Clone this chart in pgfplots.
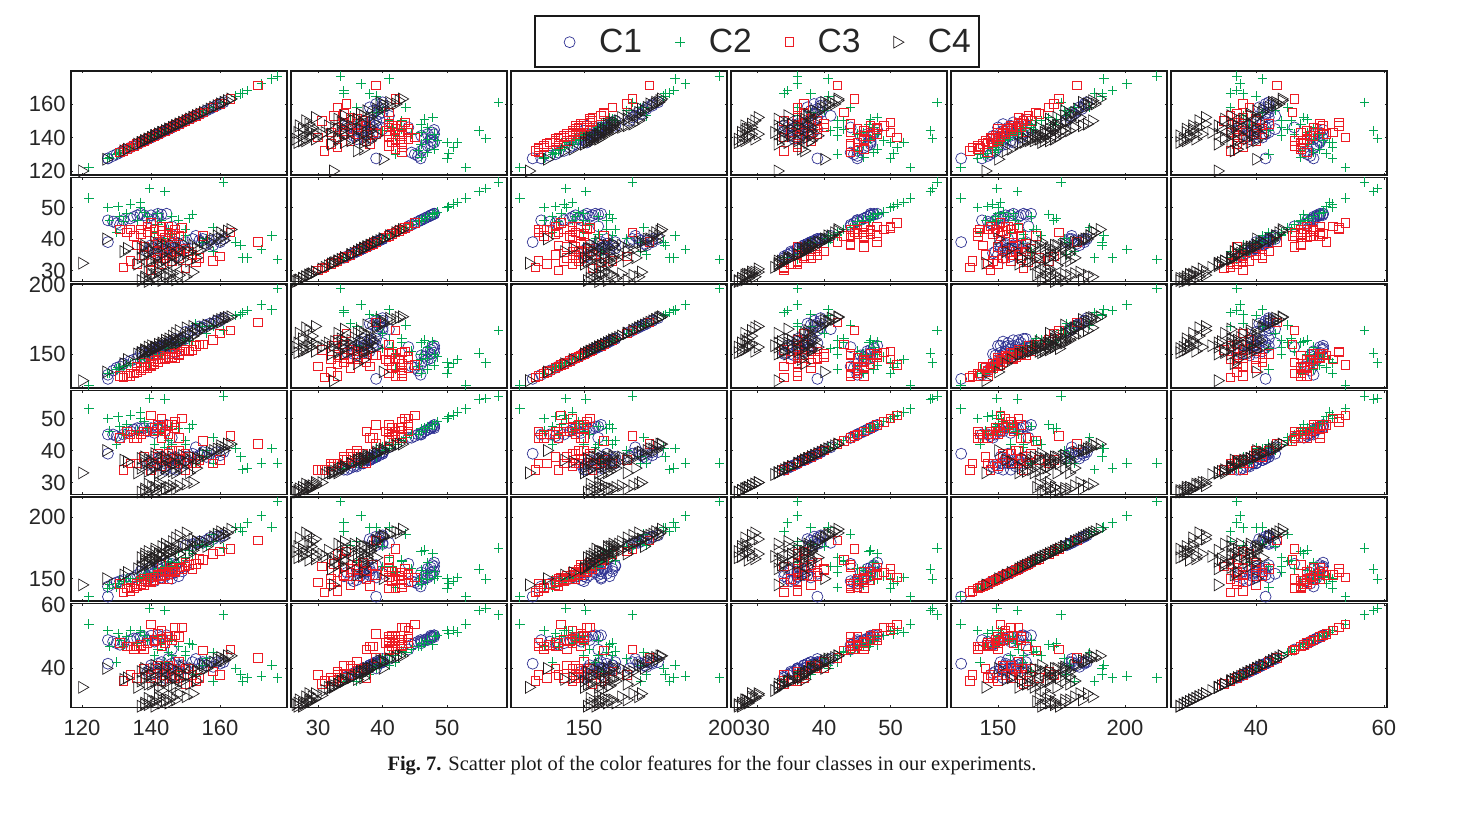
\documentclass[border=0pt]{standalone}
\usepackage{pgfplots}
\usepackage{pgfplotstable}
\pgfplotsset{compat=1.18}
\usepackage{fontspec}
\setmainfont{Liberation Sans}
\newfontfamily\capfont{Liberation Serif}

\definecolor{cone}{RGB}{46,49,146}
\definecolor{ctwo}{RGB}{0,166,81}
\definecolor{cthree}{RGB}{237,28,36}
\definecolor{cfour}{RGB}{35,31,32}

% columns: the six colour features
\pgfplotstableread{
a b c d e f
127.5 39 132 39 135.5 41.5
127.5 45.9 135 45 143.7 49
130 45 140 44.5 147 48
134 46.5 145 46 150 49
137 48 151 47 156 50
140 47.5 153 47 159 50.4
143 47.7 155 47.5 161 50
144.5 48 156 48 163 50.5
139 46.5 148 46 152 49
141 46 149 45.5 155 48.5
132 46 143 45 149 48
136 47.5 147 47 153 49.5
142 47 152 46.5 158 49
146 44 155 44 162 46
140 38 152 37 153 41
142 37 154 36 155 40
144 36 155 35 157 39
146 35 156 34.5 150 38
148 36.5 159 36 152 39.5
149 38 160 37 156 41
143 39 156 38 151 42
145 40 158 39 154 43
141 35.5 150 35 148 38.5
147 34.5 151 34 155 37.5
150 37 161 36 160 40
139 36 149 35.5 149 39
145 37.5 157 37 158 40
147 39 161 38 161 42
152 40 167 39 178 42
154 39.5 170 38.5 180 41.5
156 38.5 171 38 181 41
158 38 172 37.5 182 40.5
160 39 174 38.5 184 41.5
161 40 176 39.5 185 42
153 41 168 41 179 43
150 39 166 38 177 40
129 45.5 138 45 146 48.5
131 44.5 141 44 148 47.5
135 47 146 46.5 151 49.5
138 47.5 150 47 155 50
142 48 154 47.5 160 50.5
140 37 151 36 151 40
142 38.5 155 37.5 153 41.5
144 37 156 36 156 40
146 38.5 158 37.5 159 41.5
148 38 160 37 158 41
144 34 150 34 152 37
146 37 156 36 154 39.5
155 40 169 39.5 179 42
157 39.5 172 39 183 42
159 40 174 39.5 184 42
}\tblone

\pgfplotstableread{
a b c d e f
122 52.9 127.5 53 135.4 54
139.5 56 143.6 56.3 149.6 59
144 55 150.7 56 157.7 58.4
161 58 167 57 174.8 57
127.5 50 136 50 142 52
130.5 50.3 140 50.5 146 51
134 51 143 51 148 52
137 51.6 146 52 151 51.5
131 47 139 47.5 149 49
148 46 158 46.8 172 47
152 47.8 159 48 170 47.5
151 46.5 160 47 173 48
158 43.6 171 44 186 45
164.6 39 178 40.7 191 40
166 38 178.5 38 191 38
172 36.7 185.6 36 200.7 37.5
175 41 182 40.6 191.7 41
176.7 33.5 197.5 36 212.5 37
166.5 34 180 34 188 36
168 34 181.5 34.5 195 37
128 46 136 46 145 47
132 45.5 141 45 148 47
136 46 146 46 150 48
139 47 147 47 154 49
142 44.5 152 45 158 46
146 41.5 155 42 160 44
150 43 161 43 165 45.5
155 39 170 38 178 41
153 35 172 36 177 38
158 36 170 36 180 36
130 42 139 42 143 42
148 36 156 36 163 39
142 48 150 48 156 50
137 50 144 50 150 52
145 43 158 43 164 45
133 48 142 48 150 50
138 48.5 148 49 152 50.5
143 46 150 46 157 48
146 47 155 47.5 163 49
141 42 150 42 155 44
144 40 154 41 160 42
150 41 160 42 167 44
156 40 165 40 176 43
}\tbltwo

\pgfplotstableread{
a b c d e f
171 39 173 42 181 43.3
163 42 167 44.6 174 46
160 34.4 165 37 172 38
155 41 157 43 165 45.7
153 32.5 156 36 162 36
150 30.6 153 34 160 35
146 33 148 36 155 37
132 31 133 34 139 36
134 33 134 36 140 38
136 32 137 36 146 37
140 30 141 34 147 38
142 34 144 38 152 41
145 35 147 39 155 41
148 36 150 40 158 42
143 32 146 35 150 36
150 37 152 39 163 40
147 37.5 147 36 156 37
135 41 136 44 142 46
133 42 134 46 142 47
131 43 134 44 146 48
137 41.5 140 45 148 47
139 42 141 46 150 48
141 43 143 47 149 49
143 44 146 50 153 52
145 42 147 45 150 50
147 43 151 49 155 53
149 43.5 152 50 158 53
144 40.5 146 46 156 48
146 41 150 48 159 49
148 41 150 44 159 50
140 45 142 51 151 54
142 39 149 48 153 51
136 38 141 44 144 47
138 37.5 144 46 150 46
143 38.5 149 44 161 47
152 35 153 36 158 38
158 33 160 36 170 39
137 43 138 45 146 47.5
139 44 140 46 147 48
141 41 145 46 151 48.5
143 42.5 146 47 152 49
145 44 148 48 154 50
147 41.5 150 47 156 50.5
134 43 136 45 143 47
142 36 146 39 152 40
144 34 147 37 153 38
146 36 148 40 157 40
148 34 149 37 159 38
140 33 143 36 148 37
138 35 140 38 145 40
151 36 152 38 161 40
154 34 157 37 166 37
}\tblthree

\pgfplotstableread{
a b c d e f
120 32.3 130.7 33 145 34
127 40 137 40 150 40
132 36 143 37 153 36.5
133 37 146 36.5 155 37
137 26.8 151 27 167 28
138 28 153 28 170 29
139 26.5 155 27 172 28.5
140 28.5 156 28.5 165 29.5
141 27.5 154 27.5 174 28
142 29.5 157 29 169 30.5
143 26.8 158 27.5 176 29
144 28.5 160 28 178 30
145 27.5 161 28.5 172 29
146 29 163 29 180 31
147 27 165 28 183 30
148 28.5 167 29 185 32
150 28 169 29.5 187 31
152 29.5 170 30 182 32
142 30.5 155 30 170 31.5
139 29.5 152 29.5 166 30.5
137 37 151 37.5 160 39
138 35 152 36 162 37
139 33 151 33.5 161 35
140 36 153 36.5 168 38
141 34 154 35 165 36
142 32 155 33 164 34
143 35 157 36 171 37
144 33.5 158 34.5 169 36
145 36.5 156 37 172 38.5
146 32.5 159 33.5 166 34.5
147 35 160 36 174 37
148 37 158 37.5 170 39
149 33.5 161 34.5 176 36
150 35.5 162 36.5 178 37.5
138 38 153 38 164 40
141 39 155 39 167 41
144 38 158 38 175 40
152 38 163 38 173 40
154 36.5 167 37.5 178 39
155 39 169 39 180 41
156 37.5 171 38.5 176 40
158 40 172 40 184 42
159 41 174 40.5 186 43
160 42 175 41.5 188 43.5
161 41 176 41 186 43
162 42.5 176.5 42 187 44
163 43 177 42 190 44
161 39.5 175 40 183 42.5
151 36 165 37 170 38
139 37 152 37 163 38.5
141 37.5 154 38 166 39.5
143 37.5 156 37.5 168 39
146 38 160 38 172 40
149 38.5 160 38.5 176 40.5
153 37 165 37.5 176 39
136 32 150 33 158 34
137 34 150 34.5 159 36
140 33 152 34 163 35
143 31 156 32.5 168 33
145 34 157 35 170 36
147 31.5 158 33 173 34
148 34 160 35 170 36.5
151 33 165 33 178 35
153 34 168 34.5 180 36
157 39 170 39.5 181 41
160 40 173 40.5 185 42.5
138 27.5 152 27.5 168 28.5
141 28.8 155 28.5 172 29.5
145 28.8 159 28.2 176 30
}\tblfour

% ranges and ticks of each feature, for x (column) and y (row)
\newcommand\xlo[1]{\ifcase#1 116.8\or 25.8\or 124.4\or 26\or 131.5\or 26.7\fi}
\newcommand\xhi[1]{\ifcase#1 179.4\or 59.3\or 200.2\or 58.5\or 216.5\or 60.5\fi}
\newcommand\ylo[1]{\ifcase#1 117.6\or 26.5\or 125.4\or 26.25\or 132\or 27.6\fi}
\newcommand\yhi[1]{\ifcase#1 179.7\or 59.5\or 200.7\or 58.75\or 216\or 60.6\fi}
\newcommand\tickset[1]{\ifcase#1 120,140,160\or 30,40,50\or 150,200\or 30,40,50\or 150,200\or 40,60\fi}
\newcommand\rowbottom[1]{\ifcase#1 175\or 281.5\or 388\or 494.5\or 601\or 707.5\fi}

\pgfplotsset{
  panel/.style={
    scale only axis, width=108pt, height=52pt, anchor=south west,
    axis line style={line width=0.6pt,color=black!90},
    tick style={line width=0.3pt,color=black!85},
    major tick length=1.2pt,
    tick align=inside,
    xtick pos=both, ytick pos=both,
    /pgf/number format/assume math mode=true,
    tick label style={font=\fontsize{11}{12}\selectfont,color=black!85},
    xticklabel style={yshift=-2.8pt},
    yticklabel style={xshift=0.8pt},
    legend style={
      at={(3.234,1.277)}, anchor=center,
      legend columns=4, draw=none, fill=none,
      font=\fontsize{16.8}{20}\selectfont, text=black!85,
      /tikz/every odd column/.append style={column sep=10pt},
      /tikz/every even column/.append style={column sep=14.6pt},
    },
  },
  cone style/.style={only marks, mark=o, mark size=2.75pt, mark options={draw=cone,line width=0.35pt}},
  ctwo style/.style={only marks, mark=+, mark size=2.4pt, mark options={draw=ctwo,line width=0.5pt}},
  cthree style/.style={only marks, mark=square, mark size=2.15pt, mark options={draw=cthree,line width=0.45pt}},
  cfour style/.style={only marks, mark=triangle, mark size=3.4pt, mark options={draw=cfour,line width=0.35pt,rotate=-90}},
}

\begin{document}
\begin{tikzpicture}
\path[use as bounding box] (0pt,0pt) rectangle (740pt,407.5pt);

\foreach \rr in {0,...,5}{
  \foreach \cc in {0,...,5}{
    \pgfmathsetmacro\xpos{(71+220*\cc)/2}
    \pgfmathsetmacro\ypos{(815-\rowbottom{\rr})/2}
    \edef\xt{\tickset{\cc}}
    \edef\yt{\tickset{\rr}}
    \edef\xa{\xlo{\cc}}\edef\xb{\xhi{\cc}}
    \edef\ya{\ylo{\rr}}\edef\yb{\yhi{\rr}}
    \ifnum\rr=5 \pgfkeys{/pgfplots/xlab/.style={}}\else \pgfkeys{/pgfplots/xlab/.style={xticklabels={}}}\fi
    \ifnum\cc=0 \pgfkeys{/pgfplots/ylab/.style={}}\else \pgfkeys{/pgfplots/ylab/.style={yticklabels={}}}\fi
    \begin{axis}[panel, at={(\xpos pt,\ypos pt)},
      xmin=\xa, xmax=\xb, ymin=\ya, ymax=\yb,
      xtick=\xt, ytick=\yt, xlab, ylab]
      \addplot[cone style] table[x index=\cc,y index=\rr]{\tblone};
      \addplot[ctwo style] table[x index=\cc,y index=\rr]{\tbltwo};
      \addplot[cthree style] table[x index=\cc,y index=\rr]{\tblthree};
      \addplot[cfour style] table[x index=\cc,y index=\rr]{\tblfour};
      \ifnum\rr=0 \ifnum\cc=0 \legend{C1,C2,C3,C4}\fi\fi
    \end{axis}
  }
}

% legend frame
\draw[line width=0.6pt,black!90] (267.5pt,374pt) rectangle (489.5pt,399.5pt);

\node[font=\capfont\fontsize{10.25}{12}\selectfont,color=black!90] at (356pt,24.5pt)
  {\textbf{Fig.~7.} Scatter plot of the color features for the four classes in our experiments.};
\end{tikzpicture}
\end{document}
